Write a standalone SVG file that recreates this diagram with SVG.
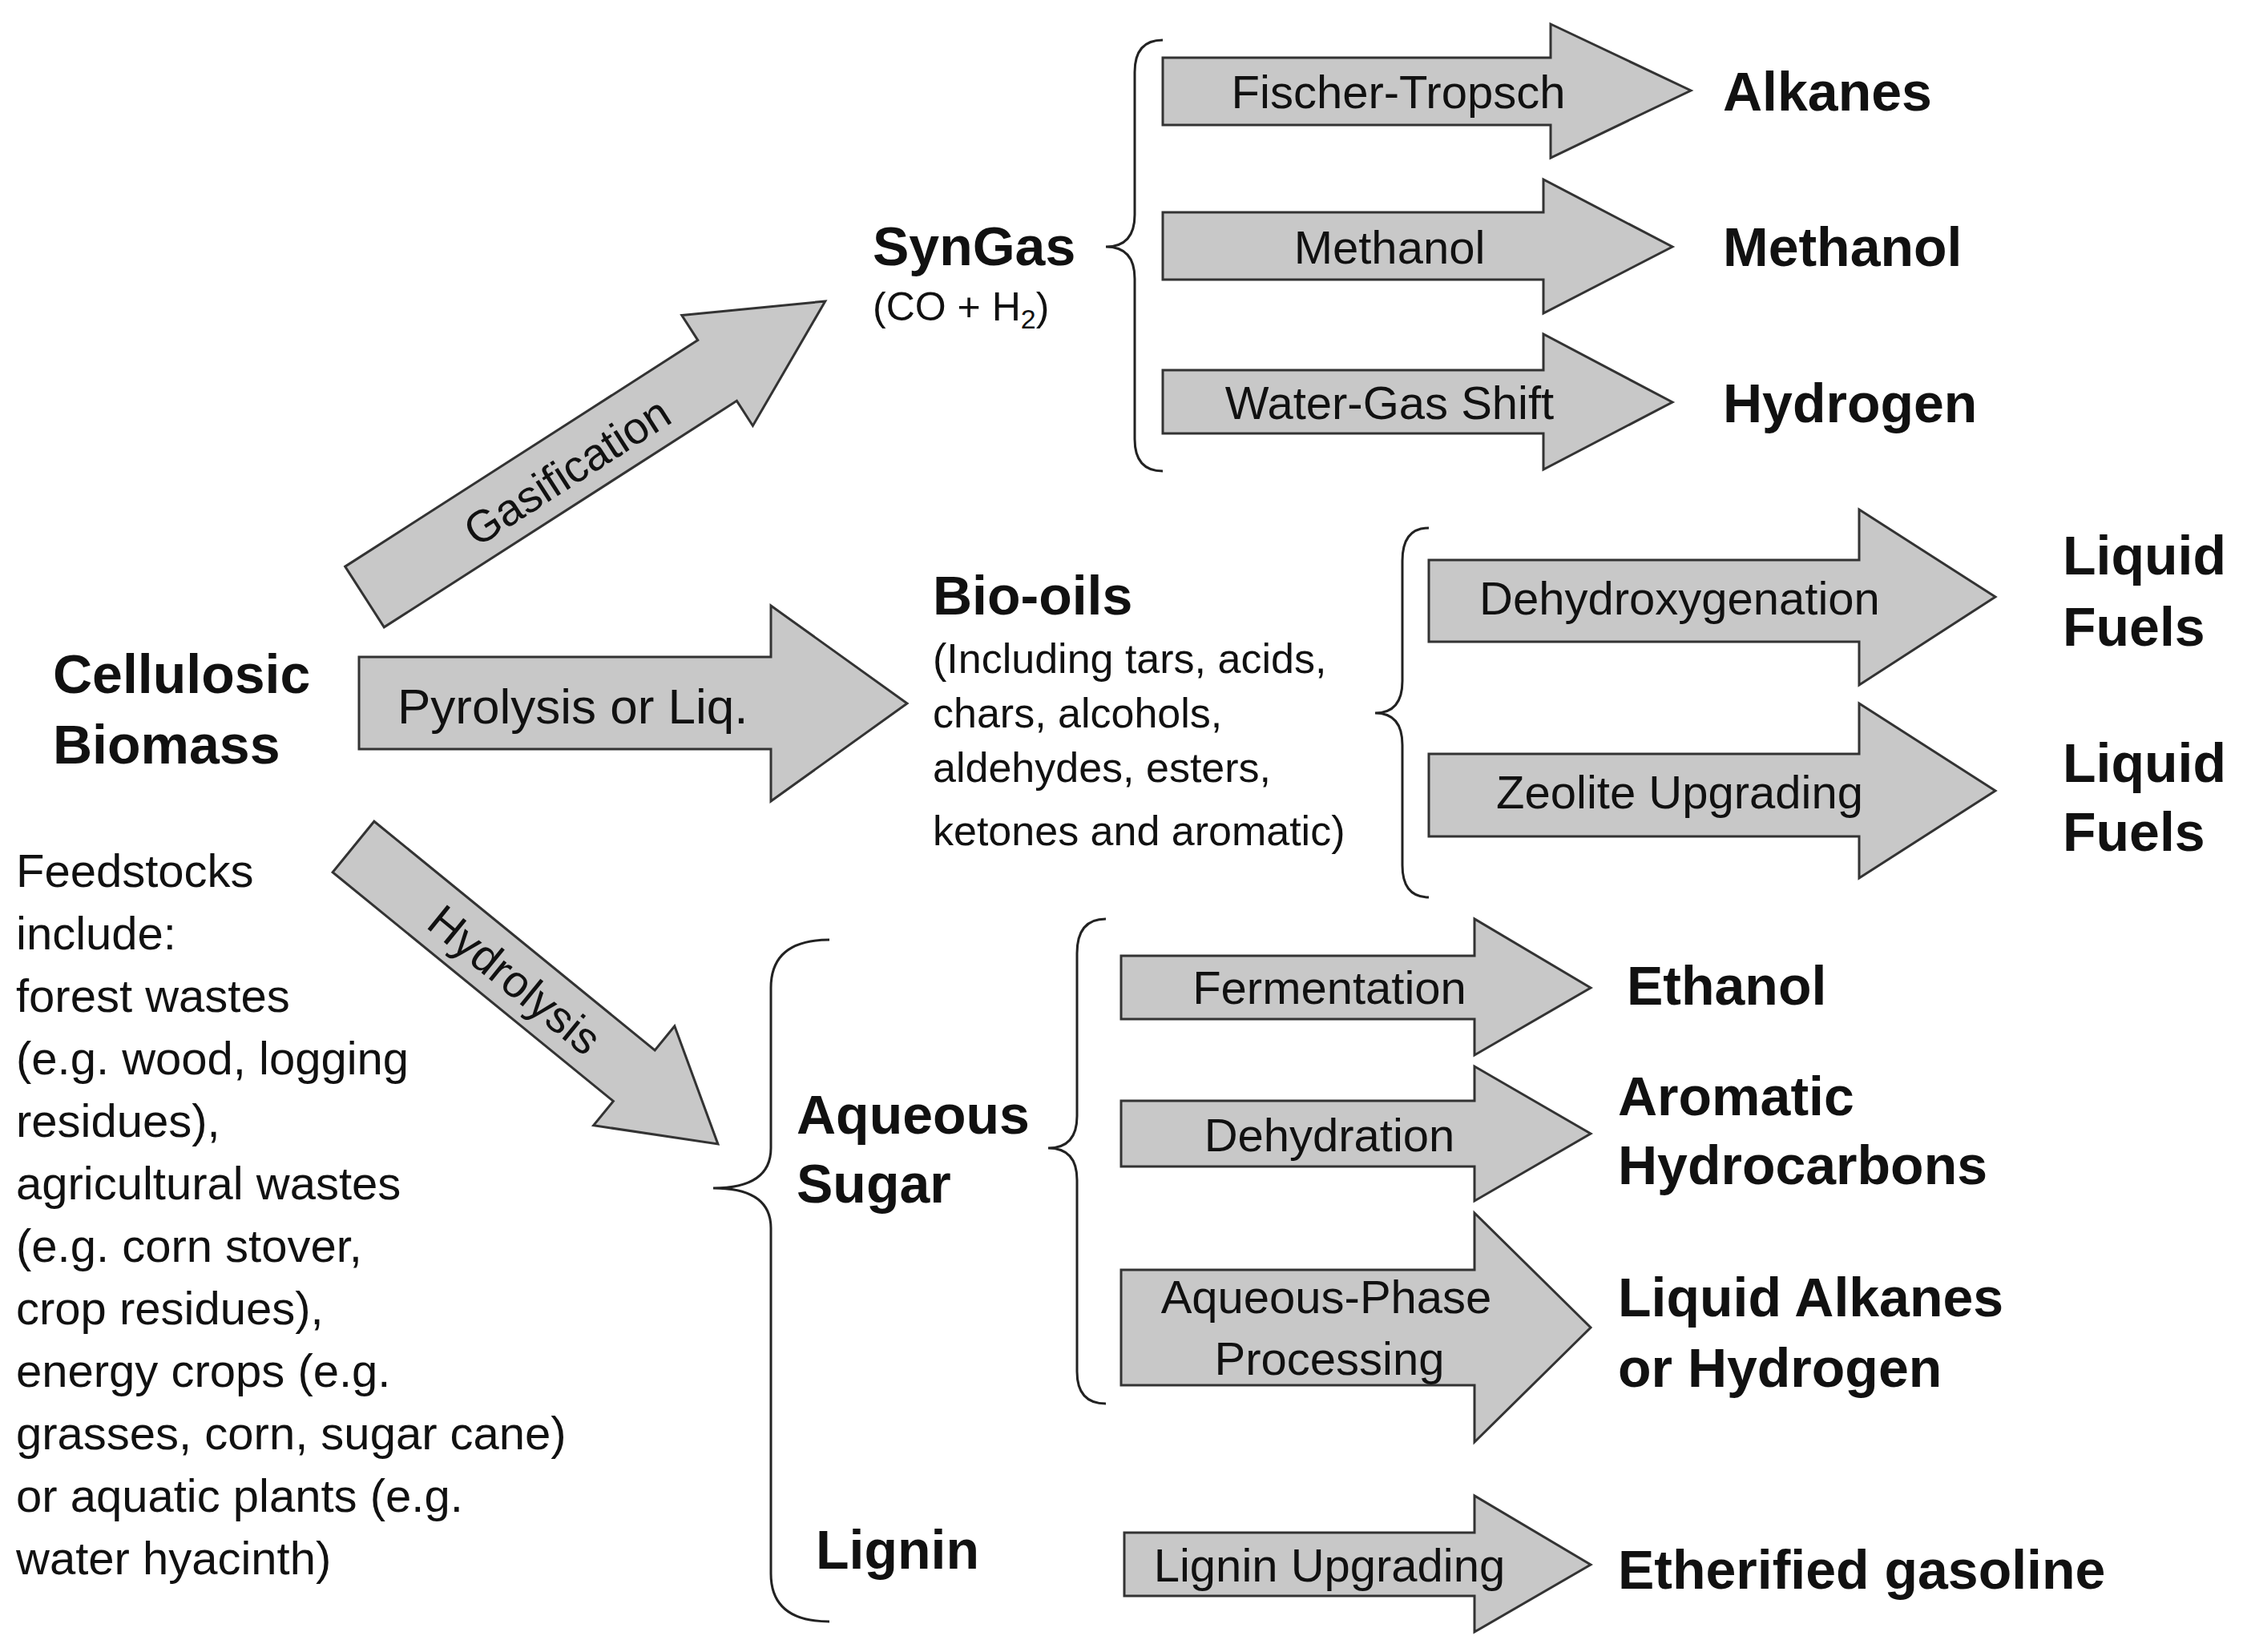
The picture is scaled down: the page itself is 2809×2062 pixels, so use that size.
<svg xmlns="http://www.w3.org/2000/svg" width="2809" height="2062" viewBox="0 0 2809 2062">
<style>
.ar{fill:#c8c8c8;stroke:#333;stroke-width:3;stroke-linejoin:miter}
.br{fill:none;stroke:#222;stroke-width:3}
.t{font-family:"Liberation Sans",Arial,sans-serif;fill:#111}
.b{font-weight:bold;font-size:68px}
.in{font-size:58px;text-anchor:middle}
.sm{font-size:52px}
</style>
<rect width="2809" height="2062" fill="#fff"/>
<g id="connectors">
<path class="br" d="M1451,50 Q1416,50 1416,90 L1416,268 Q1416,308 1380,308 Q1416,308 1416,348 L1416,548 Q1416,588 1451,588"/>
<path class="br" d="M1783,659 Q1750,659 1750,700 L1750,850 Q1750,890 1716,890 Q1750,890 1750,930 L1750,1080 Q1750,1120 1783,1120"/>
<path class="br" d="M1035,1173 Q962,1173 962,1233 L962,1433 Q962,1483 890,1483 Q962,1483 962,1533 L962,1964 Q962,2024 1035,2024"/>
<path class="br" d="M1380,1147 Q1344,1147 1344,1190 L1344,1393 Q1344,1433 1308,1433 Q1344,1433 1344,1473 L1344,1712 Q1344,1752 1380,1752"/>
</g>
<g id="gasification">
<polygon class="ar" transform="translate(455,745) rotate(-32.7)" points="0,-45 523,-45 523,-82 683,0 523,82 523,45 0,45"/>
<text class="t" font-size="56" text-anchor="middle" transform="translate(718,605) rotate(-32.7)">Gasification</text>
</g>
<g id="pyrolysis">
<polygon class="ar" points="448,820 962,820 962,756 1132,878 962,1000 962,935 448,935"/>
<text class="t" font-size="62" x="496" y="903">Pyrolysis or Liq.</text>
</g>
<g id="hydrolysis">
<polygon class="ar" transform="translate(441,1057) rotate(39.2)" points="0,-41 452,-41 452,-80 587,0 452,80 452,41 0,41"/>
<text class="t" font-size="56" text-anchor="middle" transform="translate(630,1238) rotate(39.2)">Hydrolysis</text>
</g>
<g id="biomass">
<text class="t b" x="66" y="865">Cellulosic</text>
<text class="t b" x="66" y="953">Biomass</text>
</g>
<g id="feedstocks" class="t" font-size="58">
<text x="20" y="1107">Feedstocks</text>
<text x="20" y="1185">include:</text>
<text x="20" y="1263">forest wastes</text>
<text x="20" y="1341">(e.g. wood, logging</text>
<text x="20" y="1419">residues),</text>
<text x="20" y="1497">agricultural wastes</text>
<text x="20" y="1575">(e.g. corn stover,</text>
<text x="20" y="1653">crop residues),</text>
<text x="20" y="1731">energy crops (e.g.</text>
<text x="20" y="1809">grasses, corn, sugar cane)</text>
<text x="20" y="1887">or aquatic plants (e.g.</text>
<text x="20" y="1965">water hyacinth)</text>
</g>
<g id="syngas">
<text class="t b" x="1089" y="331" font-size="64">SynGas</text>
<text class="t" x="1089" y="400" font-size="50">(CO + H<tspan font-size="34" dy="10">2</tspan><tspan dy="-10">)</tspan></text>
</g>
<g id="fischer">
<polygon class="ar" points="1451,72 1935,72 1935,30 2110,113 1935,197 1935,156 1451,156"/>
<text class="t in" x="1745" y="135">Fischer-Tropsch</text>
<text class="t b" x="2150" y="138">Alkanes</text>
</g>
<g id="methanol">
<polygon class="ar" points="1451,265 1926,265 1926,224 2087,308 1926,391 1926,349 1451,349"/>
<text class="t in" x="1734" y="329">Methanol</text>
<text class="t b" x="2150" y="332">Methanol</text>
</g>
<g id="watergas">
<polygon class="ar" points="1451,462 1926,462 1926,417 2087,502 1926,586 1926,541 1451,541"/>
<text class="t in" x="1734" y="523">Water-Gas Shift</text>
<text class="t b" x="2150" y="527">Hydrogen</text>
</g>
<g id="biooils">
<text class="t b" x="1164" y="767" font-size="64">Bio-oils</text>
<text class="t sm" x="1164" y="840">(Including tars, acids,</text>
<text class="t sm" x="1164" y="908">chars, alcohols,</text>
<text class="t sm" x="1164" y="976">aldehydes, esters,</text>
<text class="t sm" x="1164" y="1055">ketones and aromatic)</text>
</g>
<g id="dehydroxygenation">
<polygon class="ar" points="1783,699 2320,699 2320,636 2490,745 2320,855 2320,801 1783,801"/>
<text class="t in" x="2096" y="767">Dehydroxygenation</text>
<text class="t b" x="2574" y="717">Liquid</text>
<text class="t b" x="2574" y="806">Fuels</text>
</g>
<g id="zeolite">
<polygon class="ar" points="1783,941 2320,941 2320,878 2490,987 2320,1096 2320,1044 1783,1044"/>
<text class="t in" x="2096" y="1009">Zeolite Upgrading</text>
<text class="t b" x="2574" y="976">Liquid</text>
<text class="t b" x="2574" y="1062">Fuels</text>
</g>
<g id="aqueous">
<text class="t b" x="994" y="1415">Aqueous</text>
<text class="t b" x="994" y="1501">Sugar</text>
</g>
<g id="lignin">
<text class="t b" x="1018" y="1958">Lignin</text>
</g>
<g id="fermentation">
<polygon class="ar" points="1399,1193 1840,1193 1840,1147 1985,1233 1840,1317 1840,1272 1399,1272"/>
<text class="t in" x="1659" y="1253">Fermentation</text>
<text class="t b" x="2030" y="1254">Ethanol</text>
</g>
<g id="dehydration">
<polygon class="ar" points="1399,1374 1840,1374 1840,1331 1985,1415 1840,1499 1840,1456 1399,1456"/>
<text class="t in" x="1659" y="1437">Dehydration</text>
<text class="t b" x="2019" y="1392">Aromatic</text>
<text class="t b" x="2019" y="1478">Hydrocarbons</text>
</g>
<g id="aqueousphase">
<polygon class="ar" points="1399,1585 1840,1585 1840,1514 1985,1657 1840,1800 1840,1729 1399,1729"/>
<text class="t in" x="1655" y="1639">Aqueous-Phase</text>
<text class="t in" x="1659" y="1716">Processing</text>
<text class="t b" x="2019" y="1643">Liquid Alkanes</text>
<text class="t b" x="2019" y="1731">or Hydrogen</text>
</g>
<g id="ligninupgrading">
<polygon class="ar" points="1403,1913 1840,1913 1840,1867 1985,1953 1840,2037 1840,1992 1403,1992"/>
<text class="t in" x="1659" y="1974">Lignin Upgrading</text>
<text class="t b" x="2019" y="1983">Etherified gasoline</text>
</g>
</svg>
